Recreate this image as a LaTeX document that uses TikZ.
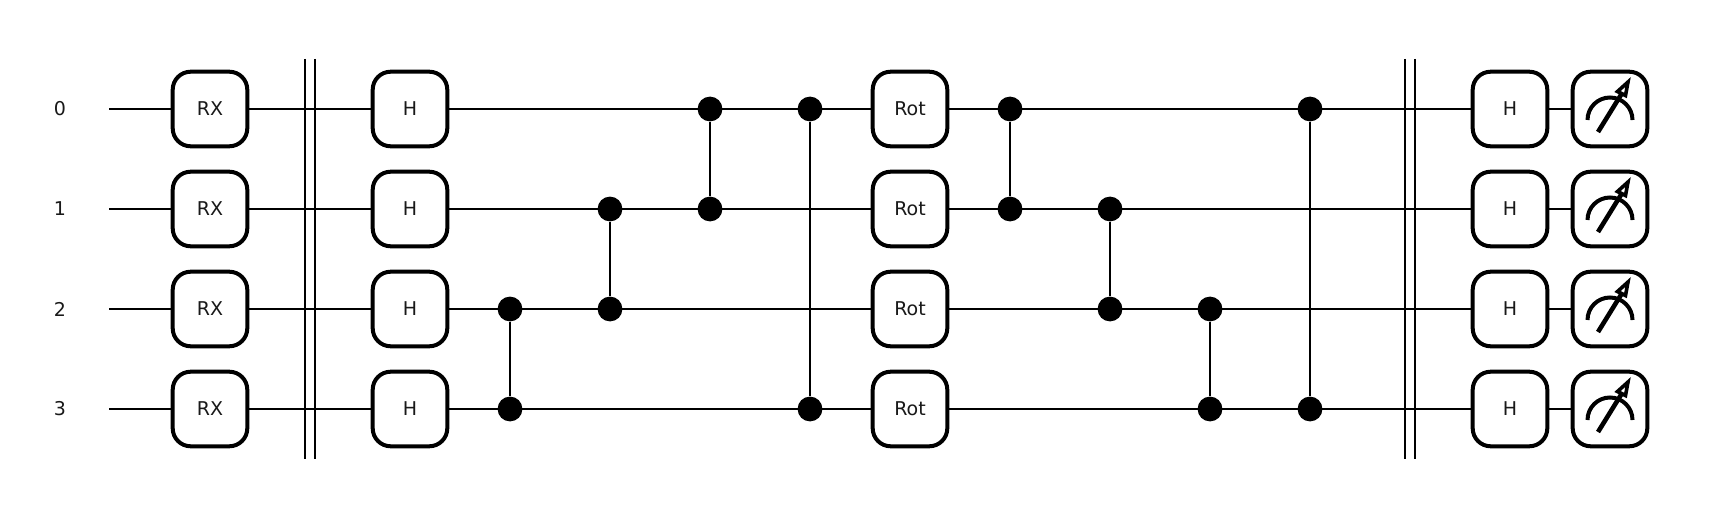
\documentclass[tikz,border=0pt]{standalone}
\usepackage{fontspec}
\setmainfont{DejaVu Sans}
\tikzset{
  wire/.style={line width=1pt,black},
  barrier/.style={line width=1pt,black},
  link/.style={line width=1pt,black},
  gatebox/.style={draw=black,fill=white,line width=2pt,rounded corners=9pt,minimum width=37.3pt,minimum height=37.3pt,inner sep=0pt,font=\fontsize{9.5pt}{11pt}\selectfont,text=black!90},
  ctrl/.style={circle,fill=black,draw=none,minimum size=12.4pt,inner sep=0pt},
  qlabel/.style={font=\fontsize{9.5pt}{11pt}\selectfont,text=black!90,inner sep=0pt},
  meter/.style={line width=2pt,black,line cap=butt},
  meterhead/.style={line width=1.8pt,black,fill=white,line join=miter,miter limit=10}
}
\begin{document}
\begin{tikzpicture}[x=0.5pt,y=-0.5pt]
\useasboundingbox (0,0) rectangle (1720,519);
\fill[white] (0,0) rectangle (1720,519);
% wire start points, labels, gate columns
\foreach \q/\y in {0/109,1/209,2/309,3/409}{
  \node[qlabel] (label\q) at (60,\y) {\q};
  \coordinate (start\q) at (109,\y);
  \coordinate (end\q) at (1610,\y);
  \draw[wire] (start\q) -- (end\q);
}
% barriers
\foreach \b/\x in {a/305,b/315,c/1405,d/1415}{
  \coordinate (top\b) at (\x,59);
  \coordinate (bot\b) at (\x,459);
  \draw[barrier] (top\b) -- (bot\b);
}
% gates
\foreach \q/\y in {0/109,1/209,2/309,3/409}{
  \node[gatebox] (rx\q) at (210,\y) {RX};
  \node[gatebox] (ha\q) at (410,\y) {H};
  \node[gatebox] (rot\q) at (910,\y) {Rot};
  \node[gatebox] (hb\q) at (1510,\y) {H};
  \node[gatebox] (m\q) at (1610,\y) {};
  \begin{scope}[shift={(1610,\y)}]
    \draw[meter] (-22.5,11) arc[start angle=180,end angle=360,radius=22.5];
    \draw[meter,line width=2.3pt] (-12,23) -- (11.5,-15);
    \draw[meterhead] (18,-27) -- (7.5,-17.5) -- (15.5,-13.5) -- cycle;
  \end{scope}
}
% controlled-Z pairs
\foreach \n/\x/\a/\b/\ya/\yb in {
  p/510/2/3/309/409,
  r/610/1/2/209/309,
  s/710/0/1/109/209,
  t/810/0/3/109/409,
  u/1010/0/1/109/209,
  v/1110/1/2/209/309,
  w/1210/2/3/309/409,
  z/1310/0/3/109/409}{
  \node[ctrl] (\n a) at (\x,\ya) {};
  \node[ctrl] (\n b) at (\x,\yb) {};
  \draw[link] (\n a) -- (\n b);
}
\end{tikzpicture}
\end{document}
